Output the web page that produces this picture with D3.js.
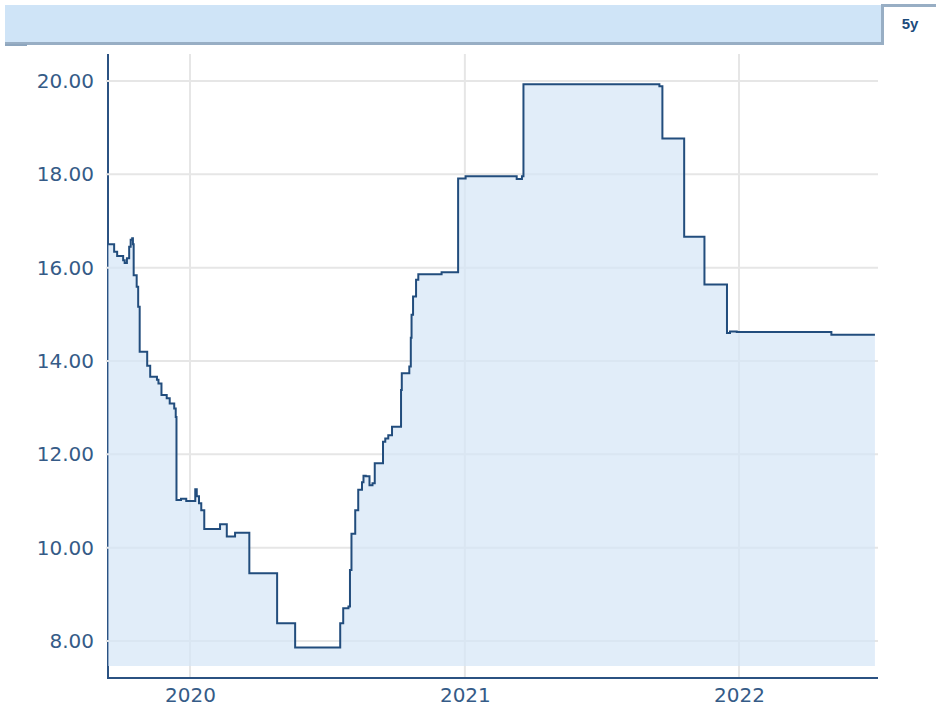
<!DOCTYPE html>
<html>
<head>
<meta charset="utf-8">
<script src="https://cdn.jsdelivr.net/npm/d3@7"></script>
<style>
  html, body { margin: 0; padding: 0; background: #fff; }
  svg { display: block; font-family: "DejaVu Sans", Verdana, sans-serif; }
</style>
</head>
<body>
<div id="chart"></div>
<script>
// step series: each value holds from its date until the next one
const dates = [
  "2019-09-14", "2019-09-22", "2019-09-26", "2019-10-04", "2019-10-06", "2019-10-09",
  "2019-10-12", "2019-10-14", "2019-10-16", "2019-10-17", "2019-10-18", "2019-10-22",
  "2019-10-24", "2019-10-26", "2019-11-05", "2019-11-09", "2019-11-18", "2019-11-20",
  "2019-11-24", "2019-12-01", "2019-12-05", "2019-12-11", "2019-12-13", "2019-12-14",
  "2019-12-20", "2019-12-27", "2020-01-08", "2020-01-10", "2020-01-13", "2020-01-16",
  "2020-01-20", "2020-02-10", "2020-02-19", "2020-03-01", "2020-03-20", "2020-04-26",
  "2020-05-20", "2020-07-19", "2020-07-23", "2020-07-30", "2020-08-01", "2020-08-03",
  "2020-08-08", "2020-08-12", "2020-08-17", "2020-08-19", "2020-08-22", "2020-08-27",
  "2020-08-31", "2020-09-03", "2020-09-14", "2020-09-17", "2020-09-21", "2020-09-26",
  "2020-10-08", "2020-10-09", "2020-10-19", "2020-10-21", "2020-10-22", "2020-10-24",
  "2020-10-28", "2020-10-31", "2020-12-01", "2020-12-23", "2021-01-02", "2021-03-11",
  "2021-03-18", "2021-03-20", "2021-09-17", "2021-09-21", "2021-10-20", "2021-11-16",
  "2021-12-16", "2021-12-20", "2021-12-29", "2022-05-04", "2022-07-01"
];
const values = [
  16.50, 16.34, 16.25, 16.16, 16.10, 16.20,
  16.45, 16.60, 16.63, 16.50, 15.84, 15.59,
  15.16, 14.20, 13.90, 13.66, 13.60, 13.52,
  13.27, 13.20, 13.09, 12.98, 12.80, 11.02,
  11.05, 11.00, 11.25, 11.10, 10.95, 10.80,
  10.40, 10.50, 10.24, 10.32, 9.45, 8.38,
  7.86, 8.38, 8.70, 8.74, 9.52, 10.30,
  10.80, 11.24, 11.40, 11.54, 11.53, 11.34,
  11.38, 11.81, 12.27, 12.34, 12.41, 12.59,
  13.38, 13.74, 13.88, 14.50, 14.99, 15.38,
  15.74, 15.86, 15.90, 17.91, 17.96, 17.90,
  17.96, 19.93, 19.89, 18.77, 16.66, 15.64,
  14.60, 14.63, 14.62, 14.56, 14.56
];
const yTicks = [8, 10, 12, 14, 16, 18, 20];
const xTicks = ["2020-01-01", "2021-01-01", "2022-01-01"];
const rangeLabel = "5y";

const W = 936, H = 708;
const parse = d3.timeParse("%Y-%m-%d");
const data = dates.map((d, i) => ({ date: parse(d), v: values[i] }));

const m = { l: 108, r: 878, t: 54, axis: 678, fill: 666 };
const x = d3.scaleTime().domain([parse("2020-01-01"), parse("2022-01-01")]).range([190, 739]);
const y = d3.scaleLinear().domain([8, 20]).range([641, 81]);

const svg = d3.select("#chart").append("svg").attr("width", W).attr("height", H);

// header band + range tab
svg.append("rect").attr("x", 5).attr("y", 5).attr("width", 877).attr("height", 38).attr("fill", "#cfe4f7");
svg.append("line").attr("x1", 5).attr("x2", 884).attr("y1", 43.5).attr("y2", 43.5)
  .attr("stroke", "#98aec4").attr("stroke-width", 3);
svg.append("line").attr("x1", 5).attr("x2", 27).attr("y1", 45).attr("y2", 45)
  .attr("stroke", "#8ea6be").attr("stroke-width", 2);
svg.append("line").attr("x1", 882.5).attr("x2", 882.5).attr("y1", 4).attr("y2", 45)
  .attr("stroke", "#98aec4").attr("stroke-width", 3);
svg.append("line").attr("x1", 881).attr("x2", 936).attr("y1", 5.5).attr("y2", 5.5)
  .attr("stroke", "#98aec4").attr("stroke-width", 3);
svg.append("text").attr("x", 910).attr("y", 29).attr("text-anchor", "middle")
  .attr("font-family", "Liberation Sans Narrow, Liberation Sans, Arial, sans-serif")
  .attr("font-size", 15).attr("font-weight", 700).attr("fill", "#1b4b7c").text(rangeLabel);

// axis lines (sit under the grid and the fill)
svg.append("line").attr("x1", m.l).attr("x2", m.l).attr("y1", m.t).attr("y2", m.axis + 1)
  .attr("stroke", "#2b5282").attr("stroke-width", 2);
svg.append("line").attr("x1", m.l - 1).attr("x2", m.r).attr("y1", m.axis).attr("y2", m.axis)
  .attr("stroke", "#2b5282").attr("stroke-width", 2);

// grid
svg.append("g").selectAll("line").data(yTicks).join("line")
  .attr("x1", m.l - 2).attr("x2", m.r).attr("y1", (d) => y(d)).attr("y2", (d) => y(d))
  .attr("stroke", "#e6e6e6").attr("stroke-width", 2);
svg.append("g").selectAll("line").data(xTicks.map(parse)).join("line")
  .attr("x1", (d) => x(d)).attr("x2", (d) => x(d)).attr("y1", m.t).attr("y2", m.axis - 1)
  .attr("stroke", "#e6e6e6").attr("stroke-width", 2);

// area + line
const area = d3.area().curve(d3.curveStepAfter)
  .x((d) => x(d.date)).y0(m.fill).y1((d) => y(d.v));
svg.append("path").datum(data).attr("d", area)
  .attr("fill", "#d4e6f6").attr("fill-opacity", 0.7);
const line = d3.line().curve(d3.curveStepAfter).x((d) => x(d.date)).y((d) => y(d.v));
svg.append("path").datum(data).attr("d", line)
  .attr("fill", "none").attr("stroke", "#224d7d").attr("stroke-width", 2);

// tick labels
const yAxis = svg.append("g").attr("transform", `translate(${m.l},0)`)
  .call(d3.axisLeft(y).tickValues(yTicks).tickFormat(d3.format(".2f")).tickSize(0).tickPadding(14));
const xAxis = svg.append("g").attr("transform", `translate(0,${m.axis})`)
  .call(d3.axisBottom(x).tickValues(xTicks.map(parse)).tickFormat(d3.timeFormat("%Y")).tickSize(0).tickPadding(10));
[yAxis, xAxis].forEach((g) => {
  g.select(".domain").remove();
  g.selectAll("text").attr("font-family", "DejaVu Sans, Verdana, sans-serif")
    .attr("font-size", 20).attr("fill", "#355b87");
});
</script>
</body>
</html>
